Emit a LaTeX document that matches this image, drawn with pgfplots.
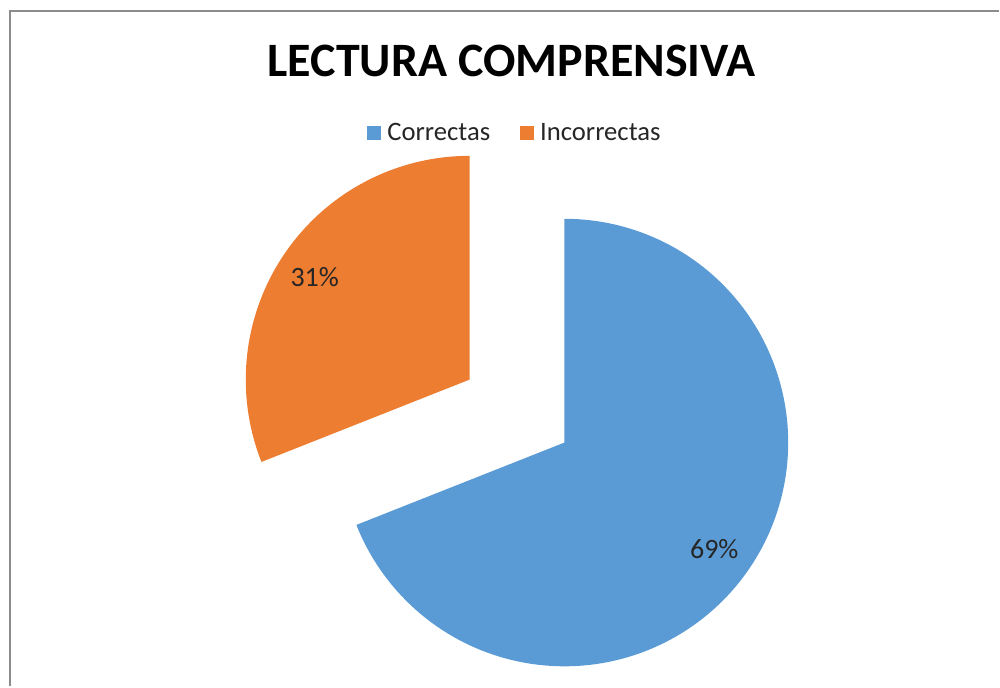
\documentclass[border=0pt]{standalone}
\usepackage{pgfplots}
\pgfplotsset{compat=1.18}
\usepackage{fontspec}
\setmainfont{Carlito}
\definecolor{cblue}{HTML}{5B9BD5}
\definecolor{corange}{HTML}{ED7D31}
\definecolor{txt}{HTML}{262626}
\definecolor{frame}{HTML}{8C8C8C}
% data (percent)
\def\valCorrectas{69}
\def\valIncorrectas{31}
\begin{document}
\begin{tikzpicture}
\pgfmathsetmacro{\aEnd}{90-\valCorrectas*3.6}
\pgfmathsetmacro{\bEnd}{450-\valCorrectas*3.6}
\begin{axis}[
  x=0.75pt, y=0.75pt,
  xmin=0, xmax=1000, ymin=0, ymax=687,
  hide axis, clip=false,
  legend columns=2,
  legend style={at={(axis cs:515.5,554)}, anchor=center, draw=none, fill=none,
    font=\fontsize{20}{23}\selectfont\color{txt},
    /tikz/every even column/.append style={column sep=20pt}},
  legend cell align=left,
]
\path (axis cs:0,0) rectangle (axis cs:1000,687);
\addplot[fill=cblue, draw=none, domain=\aEnd:90, samples=150, variable=\t,
  legend image code/.code={\fill[cblue] (0pt,-5.5pt) rectangle (11pt,5.5pt); \path (13.5pt,0pt);}]
  ({565+224*cos(\t)},{244+224*sin(\t)}) -- (axis cs:565,244) -- cycle;
\addlegendentry{Correctas}
\addplot[fill=corange, draw=none, domain=90:\bEnd, samples=80, variable=\t,
  legend image code/.code={\fill[corange] (0pt,-5.5pt) rectangle (11pt,5.5pt); \path (13.5pt,0pt);}]
  ({470+224*cos(\t)},{307+224*sin(\t)}) -- (axis cs:470,307) -- cycle;
\addlegendentry{Incorrectas}
\node[font=\fontsize{21}{24}\selectfont, text=txt] at (axis cs:715,137) {\valCorrectas\%};
\node[font=\fontsize{21}{24}\selectfont, text=txt] at (axis cs:315,410) {\valIncorrectas\%};
\node[font=\fontsize{36}{40}\selectfont\bfseries, text=black] at (axis cs:512,626) {LECTURA COMPRENSIVA};
\draw[frame, line width=1.5pt] (axis cs:10,0) -- (axis cs:10,676) -- (axis cs:1000,676);
\end{axis}
\end{tikzpicture}
\end{document}
